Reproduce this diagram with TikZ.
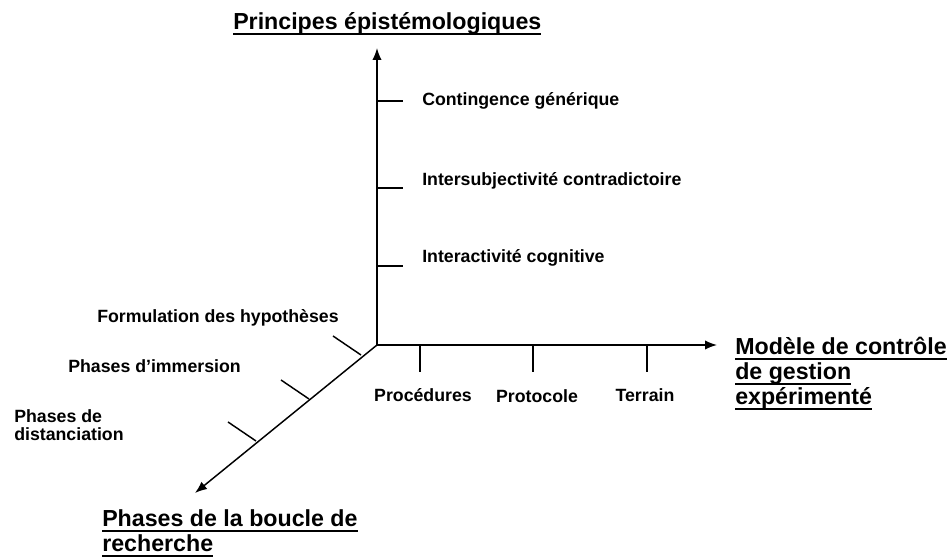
\documentclass[tikz,border=0pt]{standalone}
\usepackage{fontspec}
\setmainfont{Liberation Sans}
\usetikzlibrary{arrows.meta}
\newsavebox{\ulinebox}
\newcommand{\uln}[1]{\sbox{\ulinebox}{#1}\rlap{\rule[-3.6pt]{\wd\ulinebox}{1.3pt}}\usebox{\ulinebox}}

\begin{document}
\begin{tikzpicture}[x=0.75pt,y=-0.75pt]

\tikzset{axis/.style = {line width=1.1pt, -{Latex[length=9pt,width=7pt]}}}
\tikzset{tick/.style = {line width=1.1pt}}
\tikzset{lbl/.style = {inner sep=0pt, anchor=base west, font=\fontsize{13.3}{13.5}\selectfont\bfseries}}
\tikzset{title/.style = {inner sep=0pt, anchor=base west, align=left, font=\fontsize{17.4}{18.8}\selectfont\bfseries}}

\useasboundingbox (0,0) rectangle (951,559);

%axes
\coordinate (O) at (377,345);
\coordinate (top) at (377,48);
\coordinate (right) at (717,345);
\coordinate (down) at (195,493);
\draw [axis] (O) -- (top);
\draw [axis] (O) -- (right);
\draw [axis] (O) -- (down);

%titles (base = last line)
\node[title] (principes) at (233,30) {\uln{Principes épistémologiques}};
\node[title] (modele) at (735,405) {\uln{Modèle de contrôle}\\\uln{de gestion}\\\uln{expérimenté}};
\node[title] (boucle) at (102,552) {\uln{Phases de la boucle de}\\\uln{recherche}};

%ticks on vertical axis
\coordinate (v1) at (377,101);
\coordinate (v2) at (377,188);
\coordinate (v3) at (377,266);
\draw [tick] (v1) -- ++(26,0);
\draw [tick] (v2) -- ++(26,0);
\draw [tick] (v3) -- ++(26,0);
\node[lbl] (contingence) at (422,106) {Contingence générique};
\node[lbl] (intersub) at (422,186) {Intersubjectivité contradictoire};
\node[lbl] (interact) at (422,263) {Interactivité cognitive};

%ticks on horizontal axis
\coordinate (h1) at (420,345);
\coordinate (h2) at (533,345);
\coordinate (h3) at (647,345);
\draw [tick] (h1) -- ++(0,27);
\draw [tick] (h2) -- ++(0,27);
\draw [tick] (h3) -- ++(0,27);
\node[lbl, anchor=base] (procedures) at (423,402) {Procédures};
\node[lbl, anchor=base] (protocole) at (537,403) {Protocole};
\node[lbl, anchor=base] (terrain) at (645,402) {Terrain};

%ticks on diagonal axis
\coordinate (d1) at (361,355);
\coordinate (d2) at (309,399);
\coordinate (d3) at (256,441);
\draw [tick] (d1) -- ++(-28,-19);
\draw [tick] (d2) -- ++(-28,-19);
\draw [tick] (d3) -- ++(-28,-19);
\node[lbl] (formulation) at (97,323) {Formulation des hypothèses};
\node[lbl] (immersion) at (68,373) {Phases d’immersion};
\node[lbl, align=left] (distanciation) at (14,441) {Phases de\\distanciation};

\end{tikzpicture}
\end{document}
